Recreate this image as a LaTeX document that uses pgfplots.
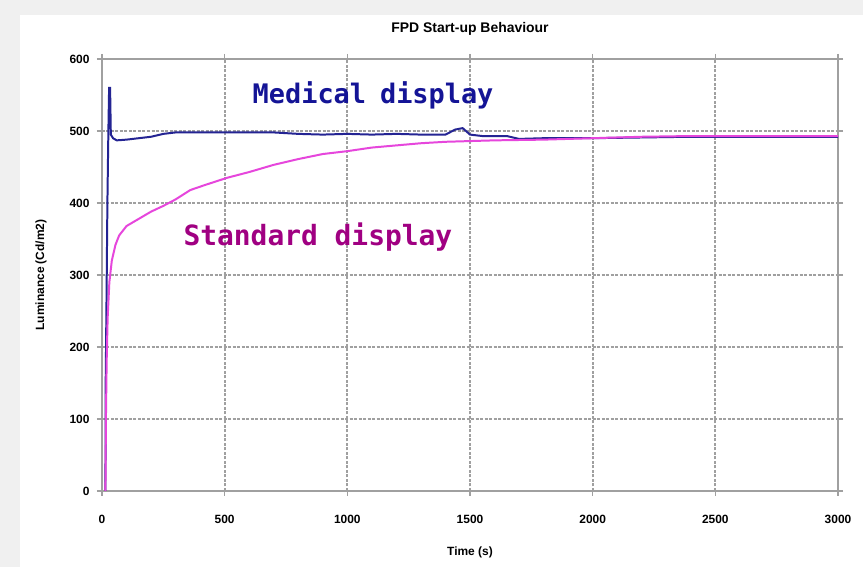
\documentclass[border=0pt]{standalone}
\usepackage{pgfplots}
\pgfplotsset{compat=1.18}
\usepackage{fontspec}
\setmainfont{Liberation Sans}
\newfontfamily\labfont{DejaVu Sans Mono}
\definecolor{medblue}{RGB}{20,20,150}
\definecolor{stdpink}{RGB}{230,70,220}
\definecolor{stdtext}{RGB}{160,0,130}
\definecolor{gridgray}{RGB}{160,160,160}

\begin{document}
\begin{tikzpicture}[x=1bp,y=1bp]
% page frame: grey margin on the left and top, white card
\fill[gray!12] (-102,-76) rectangle (761,491);
\fill[white] (-82,-76) rectangle (761,476);
\begin{axis}[
  at={(0,0)}, anchor=south west,
  scale only axis, width=736bp, height=432bp,
  xmin=0, xmax=3000, ymin=0, ymax=600,
  xtick={0,500,...,3000}, ytick={0,100,...,600},
  grid=major,
  major grid style={gridgray, line width=1.8pt, dash pattern=on 3bp off 1.5bp},
  axis line style={gridgray, line width=2pt},
  tick style={gridgray, line width=1.5pt},
  tick align=outside, major tick length=5bp,
  tick label style={font=\bfseries\fontsize{12}{13}\selectfont},
  xticklabel style={yshift=-16bp},
  yticklabel style={xshift=-4bp},
  /pgf/number format/assume math mode=true,
  /pgf/number format/set thousands separator={},
  xlabel={\bfseries Time (s)}, ylabel={\bfseries Luminance (Cd/m2)},
  label style={font=\bfseries\fontsize{12}{13}\selectfont},
  xlabel style={yshift=-16bp},
  ylabel style={yshift=16bp},
  title={\bfseries FPD Start-up Behaviour},
  title style={font=\bfseries\fontsize{14}{16}\selectfont, yshift=14bp},
  clip=false,
]
\addplot[medblue!85!gray, line width=2pt] coordinates {
(14,0) (15,150) (18,250) (22,400) (26,500) (29,560) (33,560) (36,495) (45,490) (60,487)
(100,488) (150,490) (200,492) (250,496) (300,498) (400,498) (500,498) (600,498)
(700,498) (800,496) (900,495) (1000,496) (1100,495) (1200,496) (1300,495) (1400,495)
(1440,502) (1470,504) (1500,495) (1550,493) (1650,493) (1700,489) (1800,490) (2000,490)
(2200,491) (2400,492) (2600,492) (2800,492) (3000,492)};
\addplot[stdpink, line width=2pt] coordinates {
(14,0) (16,100) (19,180) (23,240) (30,290) (40,320) (55,342) (70,355) (100,368)
(150,378) (200,388) (250,396) (300,405) (360,418) (420,425) (510,435) (600,443)
(700,453) (800,461) (900,468) (1000,472) (1100,477) (1200,480) (1300,483) (1400,485)
(1500,486) (1600,487) (1800,488) (2000,490) (2200,492) (2400,493) (2600,493) (2800,493) (3000,493)};
\node[medblue, font=\labfont\bfseries\fontsize{27}{28}\selectfont] at (axis cs:1105,550) {Medical\hspace{14bp}display};
\node[stdtext, font=\labfont\bfseries\fontsize{28}{30}\selectfont] at (axis cs:880,353) {Standard display};
\end{axis}
\end{tikzpicture}
\end{document}
